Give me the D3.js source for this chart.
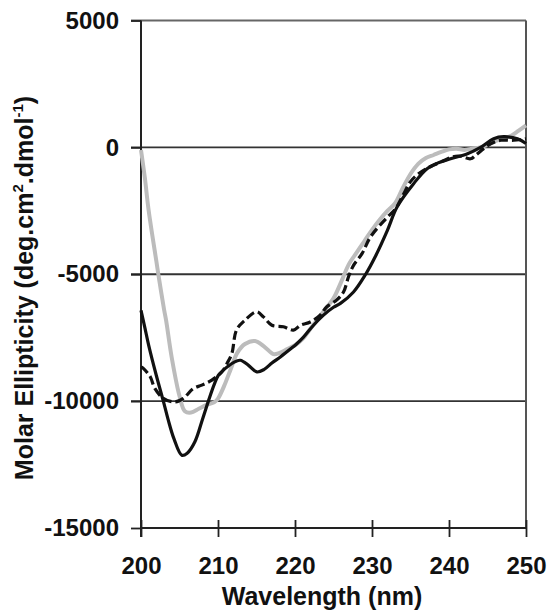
<!DOCTYPE html>
<html>
<head>
<meta charset="utf-8">
<script src="https://cdn.jsdelivr.net/npm/d3@7"></script>
<style>
  html, body { margin: 0; padding: 0; background: #fff; }
  svg { display: block; }
  text { font-family: "Liberation Sans", Arial, sans-serif; font-weight: bold; fill: #111; }
</style>
</head>
<body>
<svg id="chart" width="547" height="611"></svg>
<script>
// ---- data (wavelength in nm, molar ellipticity) ----
const xTicks = [200, 210, 220, 230, 240, 250];
const yTicks = [5000, 0, -5000, -10000, -15000];
const gridValues = [0, -5000, -10000];

const grayWl = [200, 200.5, 201, 202, 202.25, 203, 203.25, 204, 205, 205.7, 206.5, 207.5, 208.5, 209.5, 210, 210.8, 211.6, 212.5, 213.5, 214.8, 216, 217.2, 218, 219, 220, 221, 222, 223, 224, 225, 226, 227, 228, 229, 230, 231, 232, 233, 234, 235, 236, 237, 238, 239, 240, 241, 242, 243, 244, 245, 246, 247, 248, 249, 250];
const grayVal = [-100, -1200, -2500, -4500, -5000, -6400, -6800, -8300, -9800, -10400, -10450, -10300, -10150, -10050, -9900, -9400, -8780, -8100, -7750, -7630, -7850, -8150, -8100, -7950, -7800, -7550, -7150, -6750, -6350, -5950, -5300, -4600, -4150, -3700, -3250, -2850, -2500, -2200, -1600, -1050, -650, -420, -300, -180, -80, -50, -100, -50, 0, 100, 250, 350, 450, 650, 870];

const solidWl = [200, 200.5, 201, 202, 202.9, 203.5, 204.3, 205.3, 206, 207, 208, 208.75, 209.5, 210.05, 211, 212, 212.9, 214, 215.05, 216, 217, 218.1, 219.4, 220.2, 221.1, 222.4, 223.7, 225, 225.9, 227.6, 229.1, 230.4, 232, 233.25, 235.4, 237.15, 238.5, 240.2, 242.4, 244.1, 245.8, 247.1, 248.9, 250];
const solidVal = [-6420, -7100, -7800, -9000, -10000, -10700, -11500, -12130, -12050, -11600, -10700, -10000, -9350, -8980, -8700, -8480, -8390, -8600, -8850, -8750, -8500, -8260, -7950, -7750, -7480, -7010, -6610, -6300, -6150, -5700, -5040, -4320, -3270, -2350, -1430, -840, -620, -450, -250, 0, 340, 420, 340, 150];

const dashWl = [200, 200.3, 201.2, 201.8, 202.9, 204.4, 205.5, 206.8, 207.9, 209.2, 210.5, 211.2, 211.8, 212.4, 213.5, 215, 215.9, 217, 218.5, 219.8, 220.7, 222, 223.3, 224.1, 225.4, 226.3, 226.95, 227.6, 228.7, 229.8, 231.9, 233.1, 234, 235, 236, 237, 238, 239.5, 240.5, 241.5, 242.8, 243.5, 244.5, 245.4, 246.7, 248.4, 250];
const dashVal = [-8650, -8710, -9040, -9500, -9890, -10030, -9890, -9500, -9370, -9170, -8850, -8500, -8120, -7200, -6810, -6480, -6680, -7010, -7070, -7200, -7010, -6880, -6600, -6290, -6020, -5700, -5100, -4650, -4190, -3530, -2780, -2400, -1900, -1350, -1050, -850, -700, -500, -370, -350, -450, -300, -50, 140, 280, 280, 340];

// ---- layout ----
const mLeft = 141, mRight = 526, mTop = 20.5, mBottom = 528;
const svg = d3.select("#chart");
const x = d3.scaleLinear().domain([200, 250]).range([mLeft, mRight]);
const y = d3.scaleLinear().domain([-15000, 5000]).range([mBottom, mTop]);

// gridlines and border
svg.append("g").selectAll("line").data(gridValues).join("line")
  .attr("x1", mLeft - 10).attr("x2", mRight)
  .attr("y1", d => y(d)).attr("y2", d => y(d))
  .attr("stroke", "#333").attr("stroke-width", 1.8);
svg.append("line").attr("x1", mLeft - 10).attr("x2", mRight)
  .attr("y1", y(5000)).attr("y2", y(5000))
  .attr("stroke", "#666").attr("stroke-width", 2);
svg.append("line").attr("x1", mRight).attr("x2", mRight)
  .attr("y1", y(5000)).attr("y2", y(-15000))
  .attr("stroke", "#555").attr("stroke-width", 2);

// y axis
const yAxis = d3.axisLeft(y).tickValues(yTicks).tickSize(10).tickPadding(12).tickFormat(d => String(d));
const gy = svg.append("g").attr("transform", `translate(${mLeft},0)`).call(yAxis);
gy.select(".domain").attr("stroke", "#222").attr("stroke-width", 2).attr("d", `M0,${mTop}V${mBottom + 9}`);
gy.selectAll(".tick line").attr("stroke", "#222").attr("stroke-width", 1.8);
gy.selectAll(".tick text").style("font-size", "24px").style("font-family", '"Liberation Sans", Arial, sans-serif').style("font-weight", "bold").attr("fill", "#111");

// x axis
const xAxis = d3.axisBottom(x).tickValues(xTicks).tickSize(0).tickPadding(0).tickFormat(d => String(d));
const gx = svg.append("g").attr("transform", `translate(0,${mBottom})`).call(xAxis);
gx.select(".domain").attr("stroke", "#222").attr("stroke-width", 2).attr("d", `M${mLeft},0H${mRight}`);
gx.selectAll(".tick line").attr("stroke", "#222").attr("stroke-width", 1.8).attr("y1", -8).attr("y2", 9);
gx.selectAll(".tick text").attr("dy", null).attr("y", 46)
  .style("font-size", "24px").style("font-family", '"Liberation Sans", Arial, sans-serif').style("font-weight", "bold").attr("fill", "#111");

// lines
const mk = (wl, v) => wl.map((w, i) => [w, v[i]]);
const line = d3.line().x(d => x(d[0])).y(d => y(d[1])).curve(d3.curveCatmullRom.alpha(0.5));

svg.append("path").datum(mk(grayWl, grayVal)).attr("d", line)
  .attr("fill", "none").attr("stroke", "#bcbcbc").attr("stroke-width", 4).attr("stroke-linejoin", "round");
svg.append("path").datum(mk(dashWl, dashVal)).attr("d", line)
  .attr("fill", "none").attr("stroke", "#111").attr("stroke-width", 3.2).attr("stroke-dasharray", "9,4");
svg.append("path").datum(mk(solidWl, solidVal)).attr("d", line)
  .attr("fill", "none").attr("stroke", "#111").attr("stroke-width", 3.2).attr("stroke-linejoin", "round");

// titles
svg.append("text").attr("x", 322).attr("y", 605).attr("text-anchor", "middle")
  .style("font-size", "25px").text("Wavelength (nm)");

const yt = svg.append("text").attr("transform", "translate(33,288) rotate(-90)")
  .attr("text-anchor", "middle").style("font-size", "25px");
yt.append("tspan").text("Molar Ellipticity (deg.cm");
yt.append("tspan").attr("dy", -10).style("font-size", "15px").text("2");
yt.append("tspan").attr("dy", 10).text(".dmol");
yt.append("tspan").attr("dy", -10).style("font-size", "15px").text("-1");
yt.append("tspan").attr("dy", 10).text(")");
</script>
</body>
</html>
